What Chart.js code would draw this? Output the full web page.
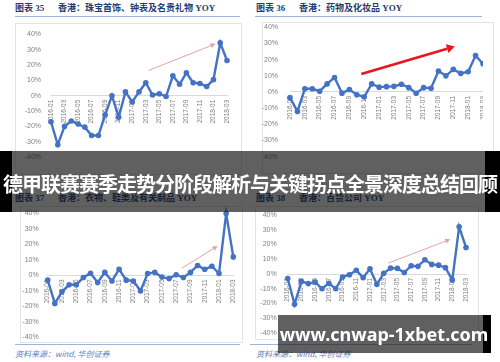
<!DOCTYPE html>
<html>
<head>
<meta charset="utf-8">
<script src="https://cdn.jsdelivr.net/npm/chart.js@4.4.1/dist/chart.umd.min.js"></script>
<style>
  html, body { margin: 0; padding: 0; background: #fff; }
  body { width: 500px; height: 362px; position: relative; overflow: hidden; }
  canvas, .clip, .title, .rule, .frame, .src, .band, .mark { position: absolute; }
  .title { font-family: "Liberation Serif", "Noto Sans CJK SC", serif; font-size: 9px; font-weight: bold; color: #1f3c73; white-space: nowrap; line-height: 11px; }
  .title span { display: inline-block; width: 43px; }
  .rule { height: 1px; background: #9fb4d6; }
  .frame { border: 1px solid #e4e4e4; }
  .src { font-family: "Noto Sans CJK SC", sans-serif; font-size: 8px; font-style: italic; color: #5b7fc0; white-space: nowrap; line-height: 10px; }
  .band { background: rgba(20, 20, 20, 0.68); }
  .black { background: #000; }
  .mark { color: #fff; font-weight: bold; white-space: nowrap; text-align: center; }
</style>
</head>
<body>

<div class="frame" style="left:15px; top:23px; width:225px; height:150px;"></div>
<div class="frame" style="left:262px; top:22px; width:230px; height:150px;"></div>
<div class="frame" style="left:20px; top:206px; width:221px; height:135px;"></div>
<div class="frame" style="left:255px; top:206px; width:222px; height:132px;"></div>

<div class="title" style="left:15px; top:3px;"><span>图表 35</span>香港：珠宝首饰、钟表及名贵礼物 YOY</div>
<div class="title" style="left:256px; top:3px;"><span>图表 36</span>香港：药物及化妆品 YOY</div>
<div class="title" style="left:15px; top:193px;"><span>图表 37</span>香港：衣物、鞋类及有关制品 YOY</div>
<div class="title" style="left:256px; top:193px;"><span>图表 38</span>香港：百货公司 YOY</div>

<div class="rule" style="left:15px; top:16px; width:225px;"></div>
<div class="rule" style="left:255px; top:16px; width:227px;"></div>
<div class="rule" style="left:15px; top:344px; width:225px;"></div>
<div class="rule" style="left:250px; top:344px; width:222px;"></div>

<div class="src" style="left:15px; top:349px;">资料来源：wind, 华创证券</div>
<div class="src" style="left:256px; top:349px;">资料来源：wind, 华创证券</div>

<canvas id="c1" width="250" height="180" style="left:0; top:0;"></canvas>
<div class="clip" style="left:250px; top:0; width:233px; height:180px; overflow:hidden;">
  <canvas id="c2" width="250" height="180" style="left:0; top:0;"></canvas>
</div>
<canvas id="c3" width="250" height="182" style="left:0; top:180px;"></canvas>
<canvas id="c4" width="250" height="182" style="left:250px; top:180px;"></canvas>

<!-- headline banner -->
<div class="band black" style="left:0; top:151px; width:12px; height:61px;"></div>
<div class="band" style="left:12px; top:151px; width:473px; height:61px;"></div>
<div class="band black" style="left:485px; top:151px; width:15px; height:61px;"></div>
<div class="mark" style="left:0; top:169px; width:500px; font-family:'Noto Sans CJK SC', sans-serif; font-size:20px; line-height:30px; letter-spacing:-1px;">德甲联赛赛季走势分阶段解析与关键拐点全景深度总结回顾</div>

<!-- watermark -->
<div class="band" style="left:278px; top:315px; width:205px; height:38px;"></div>
<div class="band black" style="left:483px; top:315px; width:8px; height:38px;"></div>
<div class="mark" style="left:278px; top:319px; width:212px; font-family:'Noto Sans', sans-serif; font-size:18px; line-height:30px;">www.cnwap-1xbet.com</div>

<script>
// months on the x axis
const months = [
  '2016-01', '2016-02', '2016-03', '2016-04', '2016-05', '2016-06', '2016-07', '2016-08', '2016-09',
  '2016-10', '2016-11', '2016-12', '2017-01', '2017-02', '2017-03', '2017-04', '2017-05', '2017-06',
  '2017-07', '2017-08', '2017-09', '2017-10', '2017-11', '2017-12', '2018-01', '2018-02', '2018-03'
];

// y axis ticks (%)
const yTicks = [-40, -30, -20, -10, 0, 10, 20, 30, 40];

// YOY (%) per chart
const jewelry = [-17, -32, -20, -16.5, -18.5, -20.5, -26, -26, -12.5, 0, -14, 2.5, -4, 2.5, 8.5, 0.5, 1.3, -0.5, 13, 7.5, 15, 8.5, 8, 6, 10.5, 34.5, 23];
const cosmetics = [-3.5, -12, 2, 2, 0.5, 5, 9, -0.7, 1.5, -1.7, -3, 5, 3, 3.3, 3.5, 4.8, 2.7, -0.8, 2.7, 2.3, 13, 10, 14, 11.5, 12.5, 22.5, 17.5];
const clothing = [-3, -18, -10.5, -6, -6, -1.3, 1.5, -4.5, 2, -3.5, 4, -3, -3.5, -10, 1.3, 2, -1, -2, 0.5, -1.3, 2, 6.5, 4, 6, 1.3, 40, 12];
const deptStores = [-3, -20.5, -5, -6.5, -5.5, -10, -6.3, -10, -2, -0.5, 2.5, -2.5, 3.5, -7, 0.5, 4, 3.8, 1, 5.6, 5.2, 9.7, 6.5, 6, 4.3, -4, 32, 18];

const blue = '#4472c4';
const grey = '#808080';

// trend arrows, drawn in data space: [fromIndex, fromValue, toIndex, toValue]
const arrowPlugin = {
  id: 'trendArrow',
  afterDatasetsDraw(chart, args, opts) {
    if (!opts || !opts.path) return;
    const { ctx } = chart;
    const x = chart.scales.x, y = chart.scales.y;
    const p = opts.path;
    const x0 = x.getPixelForValue(p[0]), y0 = y.getPixelForValue(p[1]);
    const x1 = x.getPixelForValue(p[2]), y1 = y.getPixelForValue(p[3]);
    const ang = Math.atan2(y1 - y0, x1 - x0);
    const len = opts.head, half = opts.headWidth;
    const bx = x1 - len * Math.cos(ang), by = y1 - len * Math.sin(ang);
    ctx.save();
    ctx.strokeStyle = opts.color;
    ctx.fillStyle = opts.color;
    ctx.lineWidth = opts.width;
    ctx.beginPath();
    ctx.moveTo(x0, y0);
    ctx.lineTo(bx, by);
    ctx.stroke();
    ctx.beginPath();
    ctx.moveTo(x1, y1);
    ctx.lineTo(bx + half * Math.sin(ang), by - half * Math.cos(ang));
    ctx.lineTo(bx - half * Math.sin(ang), by + half * Math.cos(ang));
    ctx.closePath();
    ctx.fill();
    ctx.restore();
  }
};

function buildChart(id, values, area, arrow) {
  const cv = document.getElementById(id);
  const W = cv.width, H = cv.height;
  return new Chart(cv, {
    type: 'line',
    data: {
      labels: months,
      datasets: [{
        data: values,
        borderColor: blue,
        backgroundColor: blue,
        borderWidth: 2.4,
        pointRadius: 2.8,
        pointBorderWidth: 0,
        tension: 0,
        clip: false
      }]
    },
    options: {
      responsive: false,
      animation: false,
      events: [],
      layout: {
        padding: { left: area.left - 30, top: area.top, right: W - area.right, bottom: H - area.bottom }
      },
      plugins: {
        legend: { display: false },
        tooltip: { enabled: false },
        trendArrow: arrow
      },
      scales: {
        x: {
          position: { y: 0 },
          grid: { display: false, drawTicks: false },
          border: { display: true, color: '#d9d9d9', width: 1 },
          ticks: {
            autoSkip: false,
            maxRotation: 90,
            minRotation: 90,
            padding: 4,
            color: grey,
            font: { family: 'Liberation Sans', size: 6.5 },
            callback: (v, i) => (i % 2 === 0 ? months[i] : '')
          }
        },
        y: {
          min: -40,
          max: 40,
          afterFit: (s) => { s.width = 30; },
          afterBuildTicks: (s) => { s.ticks = yTicks.map(v => ({ value: v })); },
          grid: { display: false, drawTicks: false },
          border: { display: false },
          ticks: {
            padding: area.pad,
            color: grey,
            font: { family: 'Liberation Sans', size: 7 },
            callback: (v) => v + '%'
          }
        }
      }
    },
    plugins: [arrowPlugin]
  });
}

const thinArrow = { color: '#e3a3a6', width: 1, head: 5, headWidth: 2.5 };
const boldArrow = { color: '#e8171f', width: 2.6, head: 8, headWidth: 4.5 };

buildChart('c1', jewelry, { left: 51, right: 227, top: 34.5, bottom: 157, pad: 10 },
  Object.assign({ path: [14.4, 16.5, 24.3, 33.9] }, thinArrow));
buildChart('c2', cosmetics, { left: 40, right: 233, top: 27.3, bottom: 156.7, pad: 12 },
  Object.assign({ path: [9.6, 11.1, 22.2, 28.2] }, boldArrow));
buildChart('c3', clothing, { left: 47.7, right: 233.3, top: 33.5, bottom: 157.5, pad: 9 },
  Object.assign({ path: [18.8, 4.7, 23.8, 19.1] }, thinArrow));
buildChart('c4', deptStores, { left: 37.7, right: 216, top: 35, bottom: 153, pad: 11 },
  Object.assign({ path: [14.7, 7.4, 23.7, 23.5] }, thinArrow));
</script>
</body>
</html>
